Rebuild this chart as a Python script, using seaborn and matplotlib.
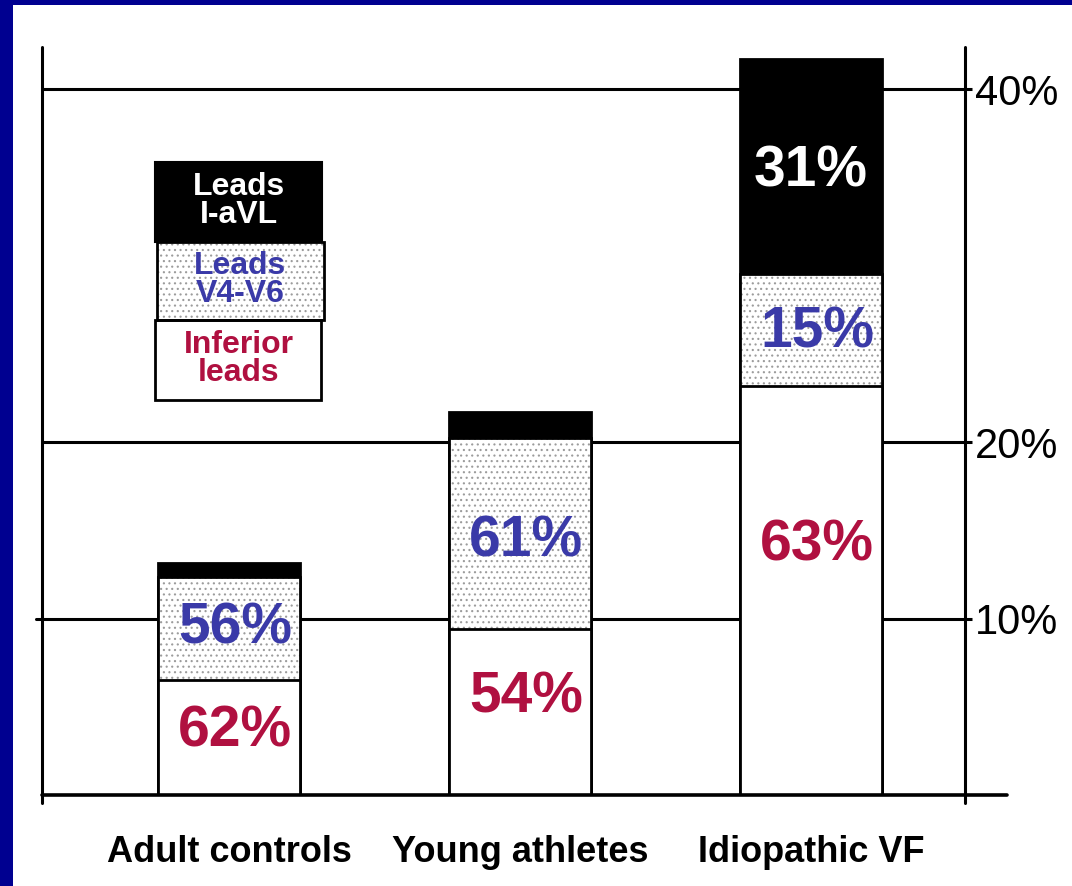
import pandas as pd
import numpy as np
import seaborn as sns
import matplotlib.pyplot as plt
from matplotlib.patches import Rectangle

# data (segment heights in %)
categories = ["Adult controls", "Young athletes", "Idiopathic VF"]
inferior = [6.5, 9.4, 23.2]
v4v6 = [5.85, 10.8, 6.3]
iavl = [0.8, 1.5, 12.2]
inferior_txt = ["62%", "54%", "63%"]
v4v6_txt = ["56%", "61%", "15%"]
iavl_txt = ["", "", "31%"]
ytick_vals = [10, 20, 40]
ytick_txt = ["10%", "20%", "40%"]

df = pd.DataFrame({"group": categories, "inferior": inferior, "v4v6": v4v6, "iavl": iavl})
df["mid"] = df["inferior"] + df["v4v6"]
df["total"] = df["mid"] + df["iavl"]

sns.set_style("white")
plt.rcParams["font.family"] = ["Liberation Sans", "DejaVu Sans"]
plt.rcParams["hatch.linewidth"] = 0.8

NAVY = "#000090"
RED = "#B01040"
BLUE = "#3A3AA8"
W, H = 1072, 886

fig = plt.figure(figsize=(W / 100, H / 100), dpi=100, facecolor=NAVY)
fig.add_artist(Rectangle((13 / W, 0), 1, (H - 5) / H, transform=fig.transFigure,
                         facecolor="white", edgecolor="none", zorder=-10))

ax = fig.add_axes([42 / W, (H - 795) / H, 923 / W, 748 / H])
ax.set_facecolor("none")

bw = 0.488
# stacked bars drawn back to front
sns.barplot(data=df, x="group", y="total", color="black", edgecolor="black",
            linewidth=2, width=bw, errorbar=None, ax=ax, zorder=2)
sns.barplot(data=df, x="group", y="mid", color="white", edgecolor="#9c9c9c",
            hatch="...", linewidth=0, width=bw, errorbar=None, ax=ax, zorder=3)
sns.barplot(data=df, x="group", y="mid", fill=False, color="black",
            linewidth=2, width=bw, errorbar=None, ax=ax, zorder=4)
sns.barplot(data=df, x="group", y="inferior", color="white", edgecolor="black",
            linewidth=2, width=bw, errorbar=None, ax=ax, zorder=5)

# labels inside segments
nudge_inf = [0.35, 0.85, 2.55]
nudge_v = [0.0, -0.45, -0.15]
nudge_i = [0.0, 0.0, -0.3]
for i in range(len(categories)):
    ax.text(i + 0.02, inferior[i] / 2 + nudge_inf[i], inferior_txt[i], ha="center", va="center",
            fontsize=41, fontweight="bold", color=RED, zorder=10)
    ax.text(i + 0.02, inferior[i] + v4v6[i] / 2 + nudge_v[i], v4v6_txt[i], ha="center",
            va="center", fontsize=41, fontweight="bold", color=BLUE, zorder=10)
    if iavl_txt[i]:
        ax.text(i, df["mid"][i] + iavl[i] / 2 + nudge_i[i], iavl_txt[i], ha="center",
                va="center", fontsize=41, fontweight="bold", color="white", zorder=10)

ax.set_xlim(-0.643, 2.529)
ax.set_ylim(0, 42.38)

# gridlines
for v in ytick_vals:
    ax.axhline(v, xmin=-0.006 if v == 10 else 0, xmax=1, color="black", lw=2.2,
               zorder=1, clip_on=False)

for s in ax.spines.values():
    s.set_visible(False)
ax.plot([0, 0], [-0.011, 1], color="black", lw=2.2, transform=ax.transAxes, clip_on=False)
ax.plot([1, 1], [-0.011, 1], color="black", lw=2.2, transform=ax.transAxes, clip_on=False)
ax.plot([0, 1.0455], [0, 0], color="black", lw=2.6, transform=ax.transAxes, clip_on=False,
        zorder=6)

ax.set_yticks(ytick_vals)
ax.set_yticklabels(ytick_txt)
ax.yaxis.tick_right()
ax.tick_params(axis="y", direction="out", length=5, width=2.2, pad=2, labelsize=30,
               colors="black")
ax.tick_params(axis="x", length=0, pad=29, labelsize=26, labelcolor="black")
for t in ax.get_xticklabels():
    t.set_fontweight("bold")
ax.set_xlabel("")
ax.set_ylabel("")


# legend box built from patches (pixel coords from top-left)
def box(x0, y0, x1, y1, **kw):
    r = Rectangle((x0 / W, 1 - y1 / H), (x1 - x0) / W, (y1 - y0) / H,
                  transform=fig.transFigure, **kw)
    fig.add_artist(r)


box(155, 162, 322, 242, facecolor="black", edgecolor="black", lw=1.5, zorder=5)
box(157, 242, 324, 320, facecolor="white", edgecolor="#9c9c9c", hatch="...", lw=0, zorder=5)
box(157, 242, 324, 320, facecolor="none", edgecolor="black", lw=2, zorder=6)
box(155, 320, 321, 400, facecolor="white", edgecolor="black", lw=2, zorder=5)

leg_kw = dict(ha="center", va="center", fontsize=23, fontweight="bold",
              linespacing=0.95, transform=fig.transFigure, zorder=7)
fig.text(239 / W, 1 - 201 / H, "Leads\nI-aVL", color="white", **leg_kw)
fig.text(240 / W, 1 - 280 / H, "Leads\nV4-V6", color=BLUE, **leg_kw)
fig.text(239 / W, 1 - 359 / H, "Inferior\nleads", color=RED, **leg_kw)

fig.savefig("out.png", dpi=100, facecolor=NAVY)
